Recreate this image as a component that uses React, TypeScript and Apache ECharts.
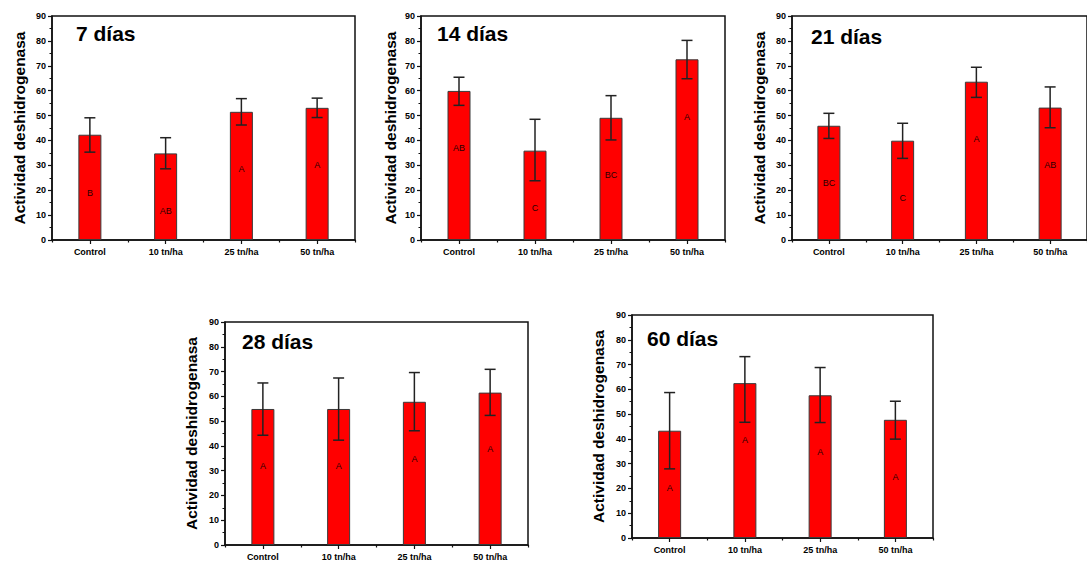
import React, { useEffect, useRef } from "react";
import * as echarts from "echarts";

const categories = ["Control", "10 tn/ha", "25 tn/ha", "50 tn/ha"];
const panelTitles = ["7 días", "14 días", "21 días", "28 días", "60 días"];
const yAxisName = "Actividad deshidrogenasa";

const mean7 = [42.3, 34.8, 51.5, 53.1];
const low7 = [35.3, 28.6, 46.2, 49.2];
const high7 = [49.1, 41.1, 56.8, 57.0];
const letters7 = ["B", "AB", "A", "A"];
const letterPos7 = [19.0, 11.7, 28.4, 30.1];

const mean14 = [59.9, 35.9, 49.1, 72.6];
const low14 = [54.1, 23.8, 40.2, 64.8];
const high14 = [65.4, 48.5, 58.0, 80.2];
const letters14 = ["AB", "C", "BC", "A"];
const letterPos14 = [36.8, 13.0, 26.1, 49.6];

const mean21 = [45.9, 39.9, 63.6, 53.2];
const low21 = [40.8, 32.8, 57.3, 45.1];
const high21 = [50.9, 46.9, 69.4, 61.5];
const letters21 = ["BC", "C", "A", "AB"];
const letterPos21 = [23.0, 17.0, 40.4, 30.1];

const mean28 = [54.9, 54.9, 57.8, 61.5];
const low28 = [44.3, 42.3, 46.1, 52.3];
const high28 = [65.4, 67.4, 69.6, 70.9];
const letters28 = ["A", "A", "A", "A"];
const letterPos28 = [32.0, 32.0, 34.7, 38.7];

const mean60 = [43.3, 62.5, 57.6, 47.7];
const low60 = [27.9, 46.7, 46.6, 39.9];
const high60 = [58.7, 73.2, 68.8, 55.2];
const letters60 = ["A", "A", "A", "A"];
const letterPos60 = [20.1, 39.6, 34.7, 24.6];

const yTicks = { min: 0, max: 90, interval: 10 };

const panels = [
  { title: panelTitles[0], mean: mean7, low: low7, high: high7, letters: letters7, letterPos: letterPos7 },
  { title: panelTitles[1], mean: mean14, low: low14, high: high14, letters: letters14, letterPos: letterPos14 },
  { title: panelTitles[2], mean: mean21, low: low21, high: high21, letters: letters21, letterPos: letterPos21 },
  { title: panelTitles[3], mean: mean28, low: low28, high: high28, letters: letters28, letterPos: letterPos28 },
  { title: panelTitles[4], mean: mean60, low: low60, high: high60, letters: letters60, letterPos: letterPos60 },
];

// layout (pixels)
const gridBoxes = [
  { left: 52, top: 16, width: 303, height: 224 },
  { left: 421, top: 16, width: 304, height: 224 },
  { left: 792, top: 16, width: 306, height: 224 },
  { left: 225, top: 322, width: 303, height: 223 },
  { left: 632, top: 315, width: 301, height: 223 },
];
const titlePos = [
  { left: 76, top: 23 },
  { left: 437, top: 23 },
  { left: 811, top: 26 },
  { left: 242, top: 331 },
  { left: 647, top: 328 },
];
const nameGaps = [25, 23, 25, 26, 26];

const FONT = "'Liberation Sans', Arial, sans-serif";
const AXIS_COLOR = "#111";

function buildOption() {
  const grid: any[] = [];
  const xAxis: any[] = [];
  const yAxis: any[] = [];
  const series: any[] = [];
  const title: any[] = [];

  panels.forEach((p, k) => {
    grid.push({
      ...gridBoxes[k],
      show: true,
      borderColor: AXIS_COLOR,
      borderWidth: 1.5,
      backgroundColor: "transparent",
      containLabel: false,
    });
    title.push({
      text: p.title,
      left: titlePos[k].left,
      top: titlePos[k].top,
      padding: 0,
      textStyle: { fontFamily: FONT, fontSize: 21, fontWeight: "bold", color: "#000" },
    });
    // main category axis
    xAxis.push({
      type: "category",
      gridIndex: k,
      data: categories,
      position: "bottom",
      axisLine: { show: true, lineStyle: { color: AXIS_COLOR, width: 1.5 } },
      axisTick: { show: true, alignWithLabel: true, length: 4, lineStyle: { color: AXIS_COLOR, width: 1.2 } },
      axisLabel: { fontFamily: FONT, fontSize: 9, fontWeight: "bold", color: "#000", margin: 7 },
      splitLine: { show: false },
    });
    // tick-only axis for boundary (minor) ticks
    xAxis.push({
      type: "category",
      gridIndex: k,
      data: categories,
      position: "bottom",
      axisLine: { show: false },
      axisTick: { show: true, length: 2.5, lineStyle: { color: AXIS_COLOR, width: 1.2 } },
      axisLabel: { show: false },
      splitLine: { show: false },
    });
    yAxis.push({
      type: "value",
      gridIndex: k,
      min: yTicks.min,
      max: yTicks.max,
      interval: yTicks.interval,
      name: yAxisName,
      nameLocation: "middle",
      nameGap: nameGaps[k],
      nameTextStyle: { fontFamily: FONT, fontSize: 15.5, fontWeight: "bold", color: "#000" },
      axisLine: { show: true, lineStyle: { color: AXIS_COLOR, width: 1.5 } },
      axisTick: { show: true, length: 4, lineStyle: { color: AXIS_COLOR, width: 1.2 } },
      minorTick: { show: true, splitNumber: 2, length: 2.5, lineStyle: { color: AXIS_COLOR, width: 1 } },
      axisLabel: { fontFamily: FONT, fontSize: 9, fontWeight: "bold", color: "#000", margin: 6 },
      splitLine: { show: false },
    });

    series.push({
      type: "bar",
      xAxisIndex: 2 * k,
      yAxisIndex: k,
      data: p.mean,
      barWidth: 23,
      itemStyle: { color: "#ff0000", borderColor: "#3a3a3a", borderWidth: 1 },
      silent: true,
    });
    series.push({
      type: "custom",
      xAxisIndex: 2 * k,
      yAxisIndex: k,
      data: p.low.map((lo, i) => [i, lo, p.high[i]]),
      renderItem: (params: any, api: any) => {
        const i = api.value(0);
        const top = api.coord([i, api.value(2)]);
        const bot = api.coord([i, api.value(1)]);
        const cap = 5.5;
        const style = { stroke: "#222", lineWidth: 1.5 };
        return {
          type: "group",
          children: [
            { type: "line", shape: { x1: top[0], y1: top[1], x2: bot[0], y2: bot[1] }, style },
            { type: "line", shape: { x1: top[0] - cap, y1: top[1], x2: top[0] + cap, y2: top[1] }, style },
            { type: "line", shape: { x1: bot[0] - cap, y1: bot[1], x2: bot[0] + cap, y2: bot[1] }, style },
          ],
        };
      },
      z: 5,
      silent: true,
    });
    series.push({
      type: "custom",
      xAxisIndex: 2 * k,
      yAxisIndex: k,
      data: p.letterPos.map((v, i) => [i, v]),
      renderItem: (params: any, api: any) => {
        const i = api.value(0);
        const pt = api.coord([i, api.value(1)]);
        return {
          type: "text",
          x: pt[0],
          y: pt[1],
          style: {
            text: p.letters[i],
            fontFamily: FONT,
            fontSize: 9,
            fill: "#2a0000",
            align: "center",
            verticalAlign: "middle",
          },
        };
      },
      z: 6,
      silent: true,
    });
  });

  return {
    animation: false,
    backgroundColor: "#ffffff",
    title,
    grid,
    xAxis,
    yAxis,
    series,
  };
}

export default function App() {
  const ref = useRef<HTMLDivElement>(null);
  useEffect(() => {
    if (!ref.current) return;
    const chart = echarts.init(ref.current, undefined, { renderer: "svg" });
    chart.setOption(buildOption() as any);
    return () => chart.dispose();
  }, []);
  return (
    <div
      ref={ref}
      style={{ position: "fixed", left: 0, top: 0, width: 1087, height: 561, background: "#fff" }}
    />
  );
}
